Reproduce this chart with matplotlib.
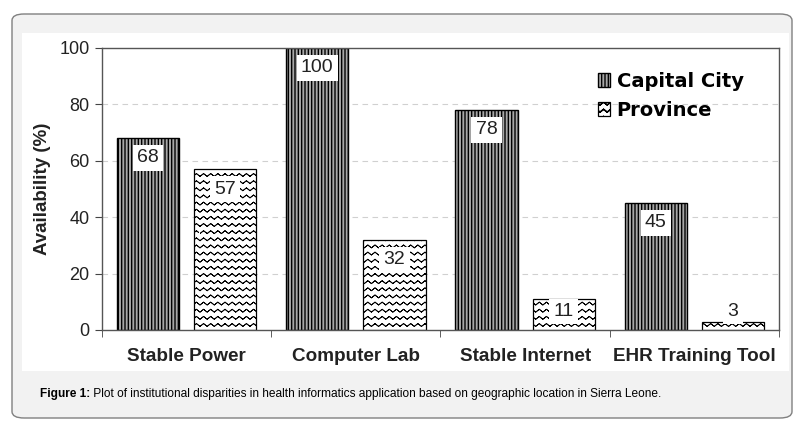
import warnings
import numpy as np
import matplotlib
matplotlib.use("Agg")
import matplotlib.pyplot as plt
import matplotlib.hatch as mhatch
from matplotlib.path import Path
from matplotlib.patches import FancyBboxPatch, Rectangle
from matplotlib import font_manager

warnings.filterwarnings("ignore")

# data
categories = ["Stable Power", "Computer Lab", "Stable Internet", "EHR Training Tool"]
capital_city = [68, 100, 78, 45]
province = [57, 32, 11, 3]
series_names = ["Capital City", "Province"]
y_ticks = [0, 20, 40, 60, 80, 100]
caption_bold = "Figure 1:"
caption_text = " Plot of institutional disparities in health informatics application based on geographic location in Sierra Leone."


# zigzag hatch ('z') - matplotlib has no wave pattern
# each row goes forward and back on itself so agg fills nothing
class ZigZagHatch(mhatch.HatchPatternBase):
    def __init__(self, hatch, density):
        self.num_rows = int(hatch.count('z') * density * 1.2)
        self.k = 2 * self.num_rows + 1
        self.num_vertices = self.num_rows * 2 * self.k

    def set_vertices_and_codes(self, vertices, codes):
        n = self.num_rows
        k = self.k
        xs = np.linspace(0.0, 1.0, k)
        amp = 0.2 / n
        offs = np.where(np.arange(k) % 2 == 0, -amp, amp)
        for i in range(n):
            y0 = (i + 0.5) / n
            s = i * 2 * k
            vertices[s:s + k, 0] = xs
            vertices[s:s + k, 1] = y0 + offs
            vertices[s + k:s + 2 * k, 0] = xs[::-1]
            vertices[s + k:s + 2 * k, 1] = (y0 + offs)[::-1]
            codes[s:s + 2 * k] = Path.LINETO
            codes[s] = Path.MOVETO


mhatch._hatch_types.append(ZigZagHatch)

names = {f.name for f in font_manager.fontManager.ttflist}
narrow = "Liberation Sans Narrow" if "Liberation Sans Narrow" in names else "Liberation Sans"
plt.rcParams['font.family'] = ['Liberation Sans', 'DejaVu Sans']

fig = plt.figure(figsize=(8.04, 4.28), dpi=100)
W, H = 804, 428

# outer rounded card and inner white panel
card = FancyBboxPatch((12 / W, 10 / H), 780 / W, 404 / H,
                      boxstyle="round,pad=0,rounding_size=0.015",
                      transform=fig.transFigure, facecolor="#f2f2f2",
                      edgecolor="#808080", linewidth=1.0, zorder=-2)
fig.patches.append(card)
panel = Rectangle((22 / W, 1 - 371 / H), 767 / W, 338 / H, transform=fig.transFigure,
                  facecolor="white", edgecolor="none", zorder=-1)
fig.patches.append(panel)

ax = fig.add_axes([102 / W, 1 - 330 / H, 677 / W, 282 / H])
ax.set_zorder(1)
ax.set_facecolor("none")

x = np.arange(len(categories))
width = 0.367
off = 0.228

with plt.rc_context({'hatch.linewidth': 1.0}):
    b1 = ax.bar(x - off, capital_city, width, facecolor="#a8a8a8", edgecolor="black",
                linewidth=1.0, hatch="|||||", label=series_names[0], zorder=2)
with plt.rc_context({'hatch.linewidth': 0.6}):
    b2 = ax.bar(x + off, province, width, facecolor="white", edgecolor="black",
                linewidth=0.9, hatch="zz", label=series_names[1], zorder=2)

for bars, vals in ((b1, capital_city), (b2, province)):
    for rect, v in zip(bars, vals):
        ax.text(rect.get_x() + rect.get_width() / 2, max(v - 7.0, 6.5), str(v),
                ha="center", va="center", fontsize=14, color="#222222", zorder=4,
                bbox=dict(boxstyle="square,pad=0.22", facecolor="white", edgecolor="none"))

ax.set_xlim(-0.5, len(categories) - 0.5)
ax.set_ylim(0, 100)
ax.set_yticks(y_ticks)
ax.set_yticklabels([str(t) for t in y_ticks], fontsize=13, color="#222222")
ax.set_xticks(x)
ax.set_xticklabels(categories, fontsize=13.6, fontweight="bold", family=[narrow, 'DejaVu Sans'],
                   color="#222222")
ax.set_xticks(np.arange(len(categories) + 1) - 0.5, minor=True)
ax.tick_params(axis="x", which="major", length=0, pad=13)
ax.tick_params(axis="x", which="minor", length=5, color="#444444")
ax.tick_params(axis="y", length=5, color="#444444", pad=4)
ax.set_ylabel("Availability (%)", fontsize=13.5, fontweight="bold", color="#222222", labelpad=6)

for yv in y_ticks[1:-1]:
    ax.axhline(yv, color="#d0d0d0", linestyle=(0, (5, 4)), linewidth=0.8, zorder=1)

for s in ax.spines.values():
    s.set_color("#555555")
    s.set_linewidth(1.0)

leg = ax.legend(loc="upper left", bbox_to_anchor=(0.707, 0.977), frameon=False,
                prop={'weight': 'bold', 'size': 14, 'family': ['DejaVu Sans']},
                handlelength=0.6, handleheight=0.75, handletextpad=0.35, labelspacing=0.5)

t = fig.text(40 / W, 1 - 394 / H, caption_bold, fontsize=8.6, fontweight="bold",
             family=[narrow, 'DejaVu Sans'], va="center", ha="left")
fig.canvas.draw()
bb = t.get_window_extent()
fig.text(bb.x1 / W, 1 - 394 / H, caption_text, fontsize=8.6,
         family=[narrow, 'DejaVu Sans'], va="center", ha="left")

fig.savefig("out.png", dpi=100, facecolor="white")
